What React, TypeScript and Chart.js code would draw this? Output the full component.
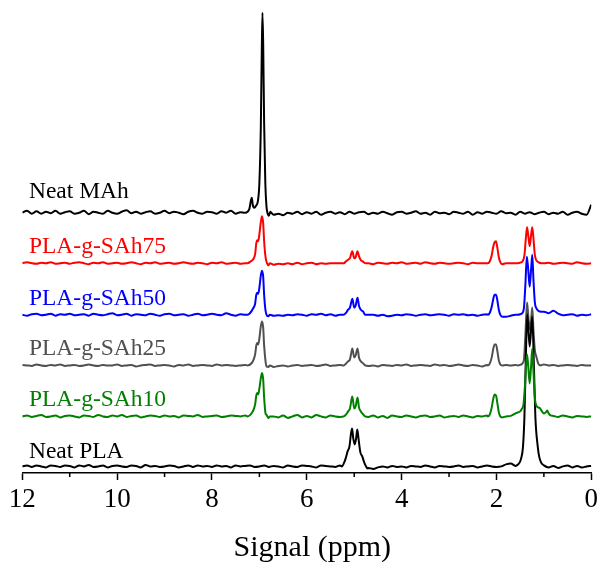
import React, { useEffect, useRef } from "react";
import { Chart, registerables } from "chart.js";

Chart.register(...registerables);

const SERIF = '"Liberation Serif", "Times New Roman", serif';

// chemical shift grid (ppm) for the baseline samples, 12.0 -> 0.0
const PPM_GRID = [
  12.0, 11.9, 11.8, 11.7, 11.6, 11.5, 11.4, 11.3, 11.2, 11.1,
  11.0, 10.9, 10.8, 10.7, 10.6, 10.5, 10.4, 10.3, 10.2, 10.1,
  10.0, 9.9, 9.8, 9.7, 9.6, 9.5, 9.4, 9.3, 9.2, 9.1,
  9.0, 8.9, 8.8, 8.7, 8.6, 8.5, 8.4, 8.3, 8.2, 8.1,
  8.0, 7.9, 7.8, 7.7, 7.6, 7.5, 7.4, 7.3, 7.2, 7.1,
  7.0, 6.9, 6.8, 6.7, 6.6, 6.5, 6.4, 6.3, 6.2, 6.1,
  6.0, 5.9, 5.8, 5.7, 5.6, 5.5, 5.4, 5.3, 5.2, 5.1,
  5.0, 4.9, 4.8, 4.7, 4.6, 4.5, 4.4, 4.3, 4.2, 4.1,
  4.0, 3.9, 3.8, 3.7, 3.6, 3.5, 3.4, 3.3, 3.2, 3.1,
  3.0, 2.9, 2.8, 2.7, 2.6, 2.5, 2.4, 2.3, 2.2, 2.1,
  2.0, 1.9, 1.8, 1.7, 1.6, 1.5, 1.4, 1.3, 1.2, 1.1,
  1.0, 0.9, 0.8, 0.7, 0.6, 0.5, 0.4, 0.3, 0.2, 0.1,
  0.0,
];

const SERIES_NAMES = ["Neat MAh", "PLA-g-SAh75", "PLA-g-SAh50", "PLA-g-SAh25", "PLA-g-SAh10", "Neat PLA"];
const SERIES_COLORS = ["#000000", "#ff0000", "#0000ff", "#505050", "#008000", "#000000"];
const OFFSETS = [260.3, 209.8, 158.3, 107.6, 56.6, 6.6];
const LABEL_RISE = [14.7, 10.2, 10.0, 10.7, 10.0, 8.4];
const LABEL_PPM = 11.86;

const X_TITLE = "Signal (ppm)";
const X_TICKS_MINOR = [11, 9, 7, 5, 3, 1];

// ---- baseline noise (intensity above each trace's baseline) ----
const NOISE_MAH = [
  0, 2, -1, 1.5, -1, 1, -0.5, 2, -1, 0.5,
  1.5, -1, 0, 2, -1.5, 1, 0, -1, 2, 0,
  -1, 1, 2.5, -0.5, 1, -1, 0.5, 1.5, -1, 0,
  2, -0.5, 1, 0, -1.5, 1, 2, 0, -1, 1,
  0.5, -1, 1.5, 0, 2, -1, 0.5, 1, 1.5, 2,
  0, 0, 0, -2, -1, -2.5, 0, -1, 1, -1.5,
  0.5, -1, 1, -2, 0, 1, -1, 0.5, -1.5, 1,
  -1, 0.5, 1, -1.5, 0, -1, 1, -0.5, -2, 0.5,
  1, -1, 0, 1.5, -1, 0, -2, 1, -0.5, 0,
  -1.5, 1, 0, -1, 1, -2, 0.5, -1, 1, 0,
  -1, 1.5, -0.5, 0, -2, 1, -1, 0.5, -1.5, 0,
  1, -1.5, 0, -1, 1, -2, 0, 1, -1, -2,
  8,
];
const NOISE_75 = [
  0, 1, 0, -0.5, 0.5, 0, 1, -0.5, 0, 0.5,
  -0.5, 0.5, 1, 0, -1, 0.5, 0, 1, -0.5, 0,
  0.5, -0.5, 0, 1, 0, -1, 0.5, 0, 1, -0.5,
  0, 0.5, -0.5, 0, 1, 0, -0.5, 0.5, 0, -1,
  0.5, 0, 1, -0.5, 0, 0.5, -0.5, 0, 0, 0,
  0, 0, -1, -1.5, -0.5, -1, 0, -1, 0.5, -1,
  0, 0.5, -1, 0, -0.5, 0, 0, 0, 0, 0,
  0, 0, 0.5, 0, -1, 0.5, 0, -0.5, 0.5, 0,
  1, -0.5, 0, 0.5, -0.5, 1, 0, -0.5, 0.5, 0,
  -0.5, 0, 0.5, 0, -1, 0.5, 0, 0, 0, 0,
  0, 0, 0, 0, 0, 0, -0.5, 0, 0.5, -0.5,
  0, 0.5, -0.5, 0, 0.5, 0, -0.5, 1, 0, -0.5,
  0,
];
const NOISE_50 = [
  0, -1, 0.5, 1, -0.5, 0, 1, -1, 0.5, 0,
  1, -0.5, 0, 0.5, -1, 1, 0, -0.5, 0.5, 1.5,
  -0.5, 0, 1, -1, 0.5, 0, -0.5, 1, 0, -1,
  0.5, 1, -0.5, 0, 0.5, -1, 0, 1, -0.5, 0,
  1, 0, -0.5, 1.5, 0, -1, 0.5, 0, 0, 0,
  0, 0, -1.5, -1, -0.5, -1, 0, -0.5, 0.5, 0,
  -1, 0.5, 0, 1, -0.5, 0.5, -1, 0, 0.5, 0,
  0, 0, 0, 0, 0, -1, 0, -1.5, -1, 0,
  -0.5, 0.5, 0, -1, 0, 0.5, -0.5, 0, 0.5, 0,
  -1, 0.5, 0, 0.5, -0.5, 0, -1, 0, 0.5, -0.5,
  0, 0, -2, -1, 0, 0, 0, 0, 0, 0,
  3, 1.5, 4, 1, -0.5, 0, 0.5, -1, 0, -0.5,
  0.5,
];
const NOISE_25 = [
  0.5, 0, -0.5, 1, 0, -0.5, 0.5, 0, 1, -0.5,
  0, 0.5, -0.5, 0, 1, 0, -0.5, 0.5, 0, 0,
  1, -0.5, 0, 0.5, -1, 0, 0.5, 1, -0.5, 0,
  0.5, 0, -1, 0.5, 0, 1, -0.5, 0, 0.5, 0,
  -0.5, 1, 0, 0.5, 0, -0.5, 0, 0.5, 1, 0,
  0, 0, -1, -1.5, -0.5, 0, -1, 0, 0.5, -0.5,
  0, 0.5, -0.5, 0, 1, -0.5, 0, 0.5, 0, 0,
  0, 0, 0.5, -0.5, 0, -1, 0.5, 0, -0.5, 0.5,
  0, 1, -0.5, 0, 0.5, 0, -0.5, 1, 0, 0.5,
  -0.5, 0, 1, 0, -0.5, 0.5, 0, -1, 0.5, 0,
  0, 0, 0.5, 0, 0.5, 0, 0, 0, 0, 0,
  1, 0, 0.5, -0.5, 0, 0.5, 0, -0.5, 0.5, 0,
  0,
];
const NOISE_10 = [
  0, 1, -0.5, 0.5, 1.5, -0.5, 0, 1, -1, 0.5,
  1, 0, -1, 1, 0.5, -0.5, 1.5, 0, -0.5, 1,
  0, 1.5, -0.5, 0.5, 1, -1, 0, 1, 0.5, -0.5,
  1, 0, 0.5, -1, 1, 0.5, 0, 1.5, -0.5, 0,
  0.5, 1, -0.5, 0, 1, 0.5, 0, 1, 1.5, 0,
  0, 0, -1.5, 0, -1, 1, -1.5, 0, 1.5, -1,
  0.5, -1, 1.5, 0, -1, 1, 0, -0.5, 1, 0,
  0, 0, 0, -0.5, 1, -1, 0.5, -1.5, 1, 0,
  -0.5, 1, 0, -1, 0.5, 1, -0.5, 0, 1, -1,
  0, 0.5, -0.5, 1, 0, -1, 0.5, 0, 1, 0.5,
  0, 0, 0, 0.5, 3, 0, 0, 0, 0, 0,
  0, 0, 0.5, -0.5, 1, 0, -1, 0.5, 0, -0.5,
  0,
];
const NOISE_PLA = [
  0, 1, -0.5, 1, 0, -1, 1, 0.5, -0.5, 1,
  0.5, -1, 1, 0, 1.5, -0.5, 0, 1, -1, 0.5,
  1, 0, -0.5, 1, 0.5, -1, 1.5, 0, 0.5, -0.5,
  0, 1, 0.5, -1, 0, 1, -0.5, 1, 0, 0.5,
  -0.5, 1, 0, 0.5, -1, 1, 0, 0.5, 1, -0.5,
  0, 1, -0.5, 0.5, 0, -1, 1, 0, -0.5, 1,
  0.5, 0, -1, 1, 0.5, 0, -0.5, 1, 0, 0.5,
  0, 0, 0, -1.5, -2.5, -1, 0, -1, 0.5, -0.5,
  0, -1, 0.5, 0, -0.5, 1, 0, -1, 0.5, 0,
  -0.5, 0, 1, -0.5, 0, 0.5, -1, 0, 1, 0,
  -0.5, 0, 2, 3, 0.5, 0, 0, 0, 0, 0,
  0, -1, 0.5, -1.5, 0, 1, -1, 0.5, -1, 0,
  0.5,
];

// ---- resonances: [ppm, intensity above baseline] ----
const PEAKS_MAH = [
  [[7.30, 0], [7.25, 1], [7.21, 4], [7.18, 12], [7.16, 15], [7.14, 8], [7.11, 5], [7.07, 7], [7.03, 12],
   [7.00, 30], [6.97, 85], [6.95, 160], [6.935, 200], [6.92, 170], [6.90, 90], [6.875, 30], [6.85, 6],
   [6.83, 0], [6.80, -3], [6.77, 1], [6.75, 0]],
];
const PEAKS_75 = [
  [[7.25, 0], [7.18, 2], [7.13, 4], [7.09, 9], [7.065, 20], [7.045, 23], [7.025, 22], [7.00, 29], [6.97, 41],
   [6.945, 47], [6.92, 40], [6.90, 22], [6.87, 6], [6.84, 0], [6.81, -2], [6.78, 0]],
  [[5.22, 0], [5.17, 2], [5.13, 3.5], [5.09, 5], [5.06, 10], [5.04, 12], [5.0, 5], [4.97, 6], [4.93, 12],
   [4.90, 7], [4.86, 3], [4.81, 1.5], [4.77, 0]],
  [[2.18, 0], [2.14, 2], [2.10, 8], [2.07, 16], [2.04, 21], [2.01, 22], [1.98, 15], [1.95, 6], [1.92, 1], [1.88, -1]],
  [[1.55, 0], [1.50, 0.5], [1.45, 2], [1.41, 8], [1.38, 25], [1.355, 36], [1.33, 28], [1.30, 17], [1.27, 28],
   [1.245, 36], [1.22, 25], [1.19, 8], [1.16, 3], [1.12, 1], [1.05, 0]],
];
const PEAKS_50 = [
  [[7.25, 0], [7.20, 1.5], [7.13, 6.5], [7.09, 11], [7.065, 20], [7.045, 22], [7.025, 21], [7.00, 27], [6.97, 39],
   [6.945, 44], [6.92, 38], [6.90, 20], [6.87, 4], [6.84, -1], [6.81, -1.5], [6.78, 0]],
  [[5.22, 0], [5.17, 2], [5.13, 5], [5.09, 7], [5.06, 13], [5.04, 16], [5.0, 7], [4.97, 9], [4.93, 17],
   [4.90, 9], [4.86, 5], [4.81, 3], [4.77, 0]],
  [[2.18, 0], [2.14, 2], [2.10, 8], [2.07, 15], [2.04, 20], [2.01, 20], [1.98, 14], [1.95, 5], [1.92, 0], [1.88, -2]],
  [[1.55, 0], [1.50, 0.5], [1.45, 2], [1.42, 7], [1.39, 30], [1.36, 58], [1.33, 45], [1.30, 28], [1.27, 45],
   [1.245, 60], [1.22, 35], [1.19, 12], [1.16, 6.5], [1.12, 4], [1.05, 3]],
];
const PEAKS_25 = [
  [[7.25, 0], [7.16, 2.4], [7.12, 6], [7.09, 11], [7.065, 20], [7.045, 22.4], [7.025, 21], [7.00, 27], [6.97, 39],
   [6.945, 44], [6.92, 38], [6.90, 20], [6.87, 4], [6.85, -1], [6.81, -1.5], [6.78, 0]],
  [[5.22, 0], [5.17, 2], [5.13, 4], [5.09, 6], [5.06, 13], [5.04, 17], [5.0, 8], [4.97, 10], [4.93, 17],
   [4.90, 8], [4.86, 4], [4.81, 2], [4.77, 0]],
  [[2.18, 0], [2.14, 2], [2.10, 8], [2.07, 16], [2.04, 21], [2.01, 21], [1.98, 14], [1.95, 5], [1.92, 1], [1.88, 0]],
  [[1.55, 0], [1.50, 0.5], [1.45, 2], [1.42, 6], [1.39, 30], [1.355, 63], [1.33, 50], [1.30, 36], [1.27, 45],
   [1.245, 58], [1.22, 35], [1.19, 15], [1.16, 9], [1.12, 2], [1.08, 0]],
];
const PEAKS_10 = [
  [[7.25, 0], [7.16, 3.4], [7.12, 7], [7.09, 12], [7.065, 21], [7.045, 23.4], [7.025, 22], [7.00, 28], [6.97, 38],
   [6.945, 43.4], [6.92, 37], [6.90, 19], [6.87, 3], [6.85, 1.7], [6.81, -1.6], [6.78, 0]],
  [[5.22, 0], [5.17, 2], [5.13, 5], [5.09, 8], [5.06, 16], [5.04, 20], [5.0, 8], [4.97, 10], [4.93, 19],
   [4.90, 9], [4.86, 5], [4.81, 2], [4.77, 0]],
  [[2.18, 0], [2.14, 2], [2.10, 9], [2.07, 17], [2.04, 22], [2.01, 21], [1.98, 13], [1.95, 4], [1.92, 0], [1.88, -1]],
  [[1.55, 4], [1.50, 5], [1.46, 8], [1.43, 12], [1.40, 30], [1.37, 55], [1.355, 62], [1.33, 50], [1.30, 33], [1.27, 50],
   [1.245, 68], [1.22, 45], [1.19, 18], [1.16, 11], [1.12, 9], [1.08, 8], [1.04, 5], [1.00, 3], [0.96, 4],
   [0.93, 6], [0.90, 3], [0.86, 1]],
];
const PEAKS_PLA = [
  [[5.26, 0], [5.22, 3], [5.18, 8], [5.14, 15], [5.10, 20], [5.07, 32], [5.045, 38], [5.02, 28], [4.99, 22],
   [4.96, 28], [4.935, 37], [4.91, 28], [4.87, 14], [4.83, 10], [4.79, 4], [4.75, 0], [4.72, -2]],
  [[1.57, 1], [1.51, 4], [1.48, 8], [1.44, 20], [1.41, 50], [1.38, 110], [1.35, 152], [1.30, 120], [1.245, 150],
   [1.21, 100], [1.18, 50], [1.13, 20], [1.10, 10], [1.06, 4], [1.00, 1]],
];

const NOISE = [NOISE_MAH, NOISE_75, NOISE_50, NOISE_25, NOISE_10, NOISE_PLA];
const PEAKS = [PEAKS_MAH, PEAKS_75, PEAKS_50, PEAKS_25, PEAKS_10, PEAKS_PLA];

function buildTrace(noise: number[], peaks: number[][][], offset: number) {
  const ranges = peaks.map((seg) => {
    const xs = seg.map((p) => p[0]);
    return [Math.min(...xs), Math.max(...xs)];
  });
  const pts: { x: number; y: number }[] = [];
  PPM_GRID.forEach((x, i) => {
    const inside = ranges.some(([lo, hi]) => x >= lo - 1e-9 && x <= hi + 1e-9);
    if (!inside) pts.push({ x, y: noise[i] + offset });
  });
  peaks.forEach((seg) => seg.forEach(([x, v]) => pts.push({ x, y: v + offset })));
  pts.sort((a, b) => b.x - a.x);
  return pts;
}

const minorTickPlugin = {
  id: "minorTicks",
  afterDraw(chart: any) {
    const s = chart.scales.x;
    const ctx = chart.ctx;
    ctx.save();
    ctx.strokeStyle = "#000";
    ctx.lineWidth = 1.5;
    X_TICKS_MINOR.forEach((v) => {
      const px = s.getPixelForValue(v);
      ctx.beginPath();
      ctx.moveTo(px, s.top);
      ctx.lineTo(px, s.top + 4);
      ctx.stroke();
    });
    ctx.restore();
  },
};

const labelPlugin = {
  id: "traceLabels",
  afterDatasetsDraw(chart: any) {
    const xs = chart.scales.x;
    const ys = chart.scales.y;
    const ctx = chart.ctx;
    ctx.save();
    ctx.font = `23.5px ${SERIF}`;
    ctx.textAlign = "left";
    ctx.textBaseline = "alphabetic";
    SERIES_NAMES.forEach((name, i) => {
      ctx.fillStyle = SERIES_COLORS[i];
      ctx.fillText(name, xs.getPixelForValue(LABEL_PPM), ys.getPixelForValue(OFFSETS[i] + LABEL_RISE[i]));
    });
    // axis title
    ctx.fillStyle = "#000";
    ctx.font = `30px ${SERIF}`;
    ctx.textAlign = "center";
    ctx.fillText(X_TITLE, (xs.left + xs.right) / 2 + 5.5, xs.bottom - 7);
    ctx.restore();
  },
};

export default function App() {
  const ref = useRef<HTMLCanvasElement | null>(null);

  useEffect(() => {
    if (!ref.current) return;
    const traces = SERIES_NAMES.map((name, i) => ({
      label: name,
      data: buildTrace(NOISE[i], PEAKS[i], OFFSETS[i]),
      borderColor: SERIES_COLORS[i],
      backgroundColor: SERIES_COLORS[i],
      borderWidth: 2,
      pointRadius: 0,
      cubicInterpolationMode: "monotone" as const,
      fill: false,
    }));
    // drawn order: first dataset on top -> green on top, MAh at bottom
    const order = [4, 5, 3, 2, 1, 0];
    const datasets = order.map((i) => traces[i]);

    const chart = new Chart(ref.current, {
      type: "line",
      data: { datasets },
      options: {
        animation: false,
        responsive: false,
        devicePixelRatio: 1,
        layout: { padding: { left: 22.3, right: 7.7, top: 10, bottom: 0 } },
        plugins: { legend: { display: false }, tooltip: { enabled: false }, title: { display: false } },
        scales: {
          x: {
            type: "linear",
            reverse: true,
            min: 0,
            max: 12,
            position: "bottom",
            border: { display: true, color: "#000", width: 1.5 },
            grid: { display: true, drawOnChartArea: false, drawTicks: true, tickLength: 7, tickColor: "#000", tickWidth: 1.5 },
            ticks: { stepSize: 2, color: "#000", font: { family: SERIF, size: 27 }, padding: 4, maxRotation: 0, autoSkip: false },
            afterFit: (s: any) => {
              s.height = 90;
              s.paddingLeft = 0;
              s.paddingRight = 0;
            },
          },
          y: { type: "linear", display: false, min: 0, max: 463 },
        },
      },
      plugins: [minorTickPlugin, labelPlugin],
    });
    return () => chart.destroy();
  }, []);

  return (
    <div style={{ position: "absolute", left: 0, top: 0, width: 599, height: 563, background: "#fff" }}>
      <canvas ref={ref} width={599} height={563} style={{ display: "block", width: 599, height: 563 }} />
    </div>
  );
}
